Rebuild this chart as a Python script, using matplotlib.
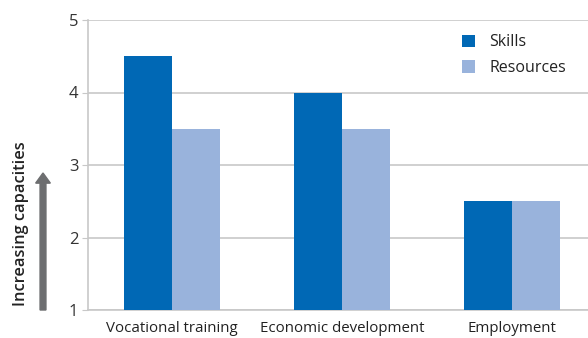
import numpy as np
import matplotlib.pyplot as plt

plt.rcParams['font.family'] = ['Open Sans', 'DejaVu Sans']

categories = ["Vocational training", "Economic development", "Employment"]
skills = [4.5, 4.0, 2.5]
resources = [3.5, 3.5, 2.5]

fig = plt.figure(figsize=(5.88, 3.38), dpi=100)
ax = fig.add_axes([88 / 588, 1 - 310 / 338, 1 - 88 / 588, 290 / 338])

x = np.arange(len(categories))
w = 0.284
ax.bar(x - w / 2, skills, w, bottom=0, color="#0068B5", label="Skills", zorder=3)
ax.bar(x + w / 2, resources, w, bottom=0, color="#99B3DC", label="Resources", zorder=3)

ax.set_ylim(1, 5)
ax.set_xlim(-0.494, 2.447)
ax.set_yticks([1, 2, 3, 4, 5])
ax.set_xticks(x)
ax.set_xticklabels(categories)
ax.grid(axis="y", color="#c8c8c8", linewidth=1.2, zorder=0)
for s in ["top", "right"]:
    ax.spines[s].set_visible(False)
ax.spines["left"].set_color("#c8c8c8")
ax.spines["bottom"].set_color("#c8c8c8")
ax.spines["left"].set_linewidth(1.2)
ax.spines["bottom"].set_linewidth(1.2)
ax.tick_params(axis="y", length=4, color="#c8c8c8", labelsize=12, labelcolor="#333333", pad=3)
ax.tick_params(axis="x", length=0, labelsize=10.8, labelcolor="#222222", pad=8)

ax.legend(loc="upper left", bbox_to_anchor=(0.72, 1.0), frameon=False, fontsize=11.5,
          handlelength=0.8, handleheight=0.8, handletextpad=0.9, labelspacing=0.6,
          labelcolor="#222222")

# arrow and label on the left
fig.patches.append(plt.matplotlib.patches.FancyArrow(
    43 / 588, 1 - 310 / 338, 0, (310 - 173) / 338, width=0.010, head_width=0.025,
    head_length=0.03, length_includes_head=True, color="#6d6e70", transform=fig.transFigure))
fig.text(21 / 588, 1 - 224 / 338, "Increasing capacities", rotation=90, ha="center", va="center",
         fontsize=11.8, fontweight="semibold", color="#222222")

fig.savefig("out.png", dpi=100)
